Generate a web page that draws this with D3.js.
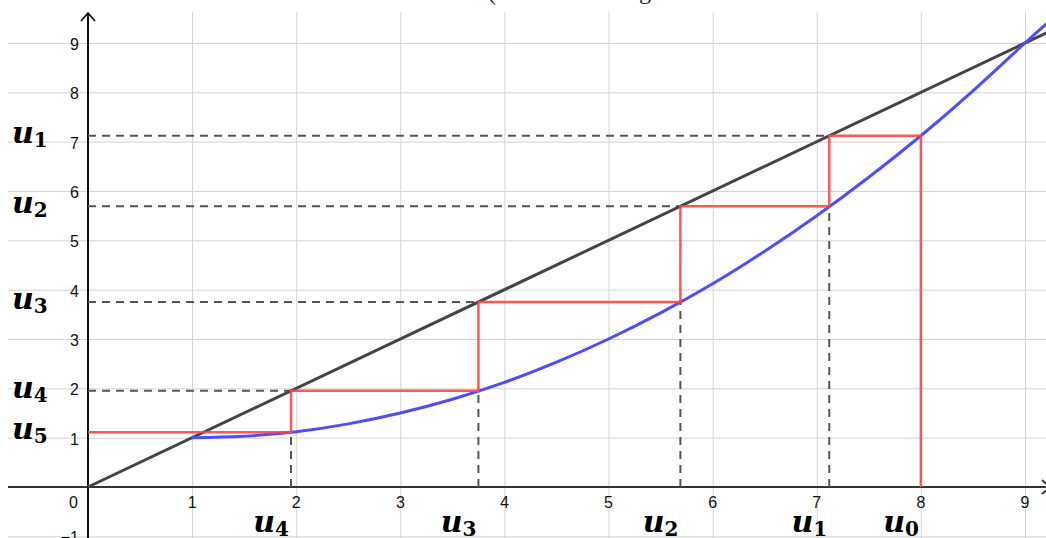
<!DOCTYPE html>
<html>
<head>
<meta charset="utf-8">
<script src="https://cdn.jsdelivr.net/npm/d3@7"></script>
<style>
  html, body { margin: 0; padding: 0; background: #fff; }
  svg { display: block; }
</style>
</head>
<body>
<svg id="chart" width="1046" height="538"></svg>
<script>
// ---- data ----
const xTicks = [1, 2, 3, 4, 5, 6, 7, 8, 9];
const yTicks = [-1, 1, 2, 3, 4, 5, 6, 7, 8, 9];
const gridX = [1, 2, 3, 4, 5, 6, 7, 8, 9];
const gridY = [-1, 1, 2, 3, 4, 5, 6, 7, 8, 9];
// sequence terms u0..u5
const uValues = [8, 7.12, 5.69, 3.75, 1.95, 1.11];
const uNames = ["0", "1", "2", "3", "4", "5"];
// blue curve samples (x, y)
const curveX = [1, 1.5, 2, 2.5, 3, 3.5, 4, 4.5, 5, 5.5, 6, 6.5, 7, 7.5, 8, 8.5, 9, 9.3];
const curveY = [1, 1.03, 1.12, 1.28, 1.5, 1.78, 2.12, 2.53, 3, 3.53, 4.12, 4.78, 5.5, 6.28, 7.12, 8.03, 9, 9.56];
// diagonal y = x endpoints
const diagX = [0, 9.3];
const diagY = [0, 9.3];
const titleFragments = ["(", "g"];

// ---- scales ----
const W = 1046, H = 538;
const plotLeft = 8, plotTop = 12;
const x = d3.scaleLinear().domain([0, 9]).range([88, 1025]);
const y = d3.scaleLinear().domain([0, 9]).range([487, 43]);

const svg = d3.select("#chart");

svg.append("defs").append("clipPath").attr("id", "plot")
  .append("rect").attr("x", plotLeft).attr("y", plotTop).attr("width", W - plotLeft).attr("height", H - plotTop);

// title fragments (cut off at top)
svg.append("text").attr("x", 488).attr("y", 0).attr("font-family", "Liberation Serif")
  .attr("font-size", 24).attr("fill", "#222").text(titleFragments[0]);
svg.append("text").attr("x", 639).attr("y", -1).attr("font-family", "Liberation Serif")
  .attr("font-size", 24).attr("fill", "#222").text(titleFragments[1]);

// grid
const grid = svg.append("g").attr("stroke", "#d3d3d3").attr("stroke-width", 1);
grid.selectAll("line.gx").data(gridX).join("line")
  .attr("x1", d => x(d) + 0.5).attr("x2", d => x(d) + 0.5)
  .attr("y1", plotTop).attr("y2", H);
grid.selectAll("line.gy").data(gridY).join("line")
  .attr("y1", d => y(d) + 0.5).attr("y2", d => y(d) + 0.5)
  .attr("x1", plotLeft).attr("x2", W);

// axes
svg.append("line").attr("x1", plotLeft).attr("x2", W).attr("y1", y(0)).attr("y2", y(0))
  .attr("stroke", "#333").attr("stroke-width", 2);
svg.append("line").attr("x1", x(0)).attr("x2", x(0)).attr("y1", 13).attr("y2", H)
  .attr("stroke", "#111").attr("stroke-width", 2);
// arrows
svg.append("path").attr("d", `M${x(0) - 7},21 L${x(0)},13 L${x(0) + 7},21`)
  .attr("fill", "none").attr("stroke", "#111").attr("stroke-width", 1.8);
svg.append("path").attr("d", `M1042,${y(0) - 7} L1050,${y(0)} L1042,${y(0) + 7}`)
  .attr("fill", "none").attr("stroke", "#333").attr("stroke-width", 1.8);

// tick labels
const tickFont = "Liberation Sans, Arial, sans-serif";
svg.append("g").selectAll("text").data(xTicks).join("text")
  .attr("x", d => x(d)).attr("y", y(0) + 21)
  .attr("text-anchor", "middle").attr("font-family", tickFont).attr("font-size", 16)
  .attr("fill", "#111").text(d => d);
svg.append("g").selectAll("text").data(yTicks).join("text")
  .attr("x", 79).attr("y", d => y(d) + 7)
  .attr("text-anchor", "end").attr("font-family", tickFont).attr("font-size", 16)
  .attr("fill", "#111").text(d => d < 0 ? "\u2212" + Math.abs(d) : d);
svg.append("text").attr("x", 78).attr("y", y(0) + 21).attr("text-anchor", "end")
  .attr("font-family", tickFont).attr("font-size", 16).attr("fill", "#111").text("0");

const plot = svg.append("g").attr("clip-path", "url(#plot)");

// dashed guides
const dash = plot.append("g").attr("stroke", "#555").attr("stroke-width", 2)
  .attr("stroke-dasharray", "8,6").attr("fill", "none");
// horizontal: from y-axis to the diagonal, for u1..u4
dash.selectAll("line.h").data(uValues.slice(1, 5)).join("line")
  .attr("x1", x(0)).attr("x2", d => x(d)).attr("y1", d => y(d)).attr("y2", d => y(d));
// vertical: from x-axis up to the curve, for u1..u4
dash.selectAll("line.v").data(uValues.slice(1, 5)).join("line")
  .attr("x1", d => x(d)).attr("x2", d => x(d))
  .attr("y1", y(0)).attr("y2", (d, i) => y(uValues[i + 2]));

// diagonal
plot.append("path")
  .attr("d", d3.line().x(d => x(d[0])).y(d => y(d[1]))(diagX.map((v, i) => [v, diagY[i]])))
  .attr("stroke", "#444").attr("stroke-width", 3).attr("fill", "none");

// curve
plot.append("path")
  .attr("d", d3.line().curve(d3.curveNatural).x(d => x(d[0])).y(d => y(d[1]))(curveX.map((v, i) => [v, curveY[i]])))
  .attr("stroke", "#4d4dff").attr("stroke-width", 3).attr("fill", "none");

// red cobweb path
const web = [[uValues[0], 0]];
for (let i = 0; i < uValues.length - 1; i++) {
  web.push([uValues[i], uValues[i + 1]]);
  if (i < uValues.length - 2) web.push([uValues[i + 1], uValues[i + 1]]);
}
web.push([0, uValues[uValues.length - 1]]);
plot.append("path")
  .attr("d", d3.line().x(d => x(d[0])).y(d => y(d[1]))(web))
  .attr("stroke", "#ff4444").attr("stroke-opacity", 0.9).attr("stroke-width", 2.5).attr("fill", "none");

// u labels
const mathFont = "DejaVu Serif, serif";
function uLabel(g, name) {
  const t = g.append("text").attr("font-family", mathFont).attr("font-weight", "bold").attr("fill", "#000");
  t.append("tspan").attr("font-style", "italic").attr("font-size", 30).text("u");
  t.append("tspan").attr("font-size", 20).attr("dy", 4).text(name);
  return t;
}
// left labels u1..u5
uValues.slice(1).forEach((v, i) => {
  uLabel(svg, uNames[i + 1]).attr("x", 12).attr("y", y(v) + 7);
});
// bottom labels u0..u4
uValues.slice(0, 5).forEach((v, i) => {
  uLabel(svg, uNames[i]).attr("x", x(v) - 2).attr("y", 532).attr("text-anchor", "end");
});
</script>
</body>
</html>
